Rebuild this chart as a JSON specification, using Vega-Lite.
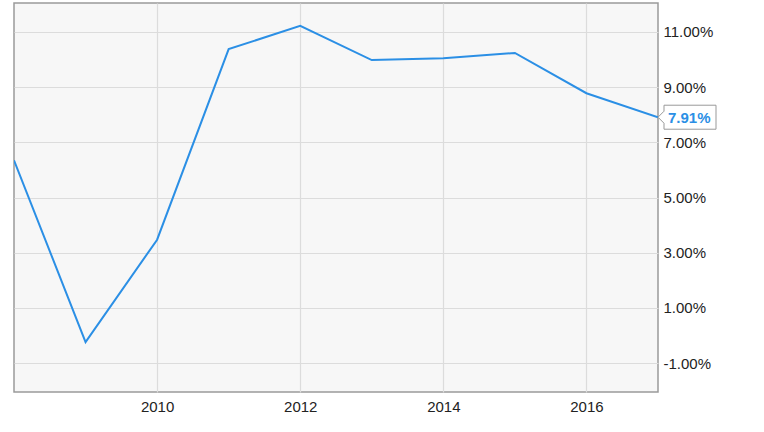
{
  "$schema": "https://vega.github.io/schema/vega-lite/v6.json",
  "width": 644,
  "height": 389,
  "autosize": {"type": "none"},
  "padding": {"left": 14, "top": 3, "right": 106, "bottom": 40},
  "background": "white",
  "config": {
    "view": {"fill": "#f7f7f7", "stroke": "#9a9a9a", "strokeWidth": 1.5},
    "axis": {"labelFont": "Liberation Sans", "labelFontSize": 15, "labelColor": "#222", "gridColor": "#dcdcdc", "gridWidth": 1.2, "ticks": false, "domain": false, "title": null}
  },
  "data": {"values": [
    {"year": 2008, "value": 6.35},
    {"year": 2009, "value": -0.24},
    {"year": 2010, "value": 3.47},
    {"year": 2011, "value": 10.38},
    {"year": 2012, "value": 11.22},
    {"year": 2013, "value": 9.98},
    {"year": 2014, "value": 10.05},
    {"year": 2015, "value": 10.24},
    {"year": 2016, "value": 8.78},
    {"year": 2017, "value": 7.91}
  ]},
  "encoding": {
    "x": {"field": "year", "type": "quantitative", "scale": {"domain": [2008, 2017], "nice": false, "zero": false},
      "axis": {"values": [2010, 2012, 2014, 2016], "format": "d", "labelPadding": 7, "orient": "bottom"}},
    "y": {"field": "value", "type": "quantitative", "scale": {"domain": [-2.05, 12.05], "nice": false, "zero": false},
      "axis": {"orient": "right", "values": [-1, 1, 3, 5, 7, 9, 11], "labelExpr": "replace(format(datum.value, '.2f'), '\u2212', '-') + '%'", "labelPadding": 5, "labelAlign": "left"}}
  },
  "layer": [
    {"mark": {"type": "line", "color": "#2b8fe5", "strokeWidth": 2, "clip": true}},
    {"transform": [{"filter": "datum.year == 2017"}],
     "mark": {"type": "point", "shape": "M0,0 L6,-6 L6,-12 L58,-12 L58,12 L6,12 L6,6 Z", "size": 4, "filled": true, "fill": "white", "stroke": "#999", "strokeWidth": 1, "opacity": 1}},
    {"transform": [{"filter": "datum.year == 2017"}],
     "mark": {"type": "text", "align": "left", "baseline": "middle", "dx": 10, "dy": 1, "font": "Liberation Sans", "fontSize": 15, "fontWeight": "bold", "color": "#2b8fe5", "text": {"expr": "format(datum.value, '.2f') + '%'"}}}
  ]
}
